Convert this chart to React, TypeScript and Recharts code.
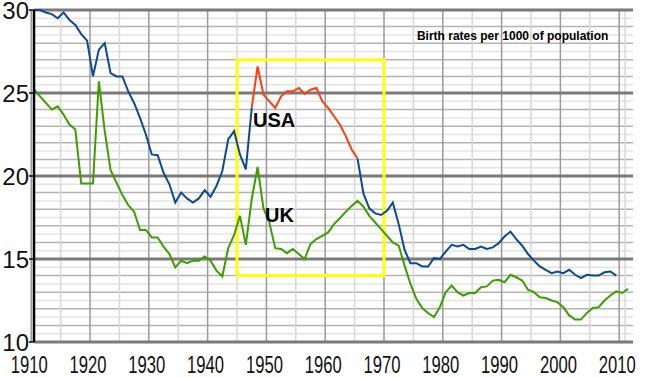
import { LineChart, Line, XAxis, YAxis, CartesianGrid, ReferenceArea, ReferenceDot } from 'recharts';

// crude birth rates per 1000 of population
const firstYear = 1910;

const usRates = [
  30.0, 30.0, 29.85, 29.75, 29.5, 29.85, 29.4, 29.1, 28.55, 28.15, // 1910s
  26.0, 27.6, 28.0, 26.2, 26.0, 26.0, 25.1, 24.4, 23.5, 22.5, // 1920s
  21.3, 21.25, 20.2, 19.5, 18.4, 19.0, 18.65, 18.4, 18.65, 19.15, // 1930s
  18.75, 19.4, 20.3, 22.2, 22.7, 21.3, 20.4, 24.1, 26.6, 24.9, // 1940s
  24.5, 24.1, 24.8, 25.1, 25.1, 25.3, 24.95, 25.2, 25.3, 24.5, // 1950s
  24.1, 23.6, 23.1, 22.4, 21.6, 21.05, 18.95, 18.05, 17.75, 17.65, // 1960s
  17.9, 18.4, 17.1, 15.55, 14.75, 14.75, 14.55, 14.55, 15.05, 15.0, // 1970s
  15.45, 15.85, 15.75, 15.85, 15.6, 15.6, 15.75, 15.6, 15.7, 15.95, // 1980s
  16.35, 16.65, 16.2, 15.8, 15.3, 14.9, 14.55, 14.35, 14.15, 14.25, // 1990s
  14.15, 14.35, 14.05, 13.85, 14.05, 14.0, 14.0, 14.2, 14.25, 14.0, // 2000s
];

const ukRates = [
  25.2, 24.8, 24.4, 24.0, 24.2, 23.7, 23.1, 22.8, 19.55, 19.55, // 1910s
  19.55, 25.7, 22.7, 20.35, 19.6, 18.85, 18.25, 17.85, 16.75, 16.75, // 1920s
  16.3, 16.3, 15.75, 15.3, 14.5, 14.9, 14.75, 14.9, 14.9, 15.15, // 1930s
  14.9, 14.3, 13.95, 15.65, 16.45, 17.6, 15.85, 18.6, 20.55, 18.05, // 1940s
  17.2, 15.65, 15.6, 15.35, 15.6, 15.3, 15.0, 15.9, 16.2, 16.4, // 1950s
  16.6, 17.1, 17.45, 17.85, 18.2, 18.5, 18.15, 17.6, 17.2, 16.8, // 1960s
  16.4, 16.0, 15.8, 14.6, 13.5, 12.6, 12.05, 11.75, 11.5, 12.1, // 1970s
  13.0, 13.4, 13.0, 12.8, 12.95, 12.95, 13.3, 13.35, 13.7, 13.75, // 1980s
  13.6, 14.05, 13.9, 13.7, 13.15, 13.0, 12.7, 12.65, 12.5, 12.4, // 1990s
  12.1, 11.6, 11.35, 11.35, 11.75, 12.05, 12.1, 12.5, 12.8, 13.05, // 2000s
  12.95, 13.2, // 2010-2011
];

// baby boom stretch of the US series, drawn in red
const boomStart = 1947;
const boomEnd = 1965;

const xTicks = [1910, 1920, 1930, 1940, 1950, 1960, 1970, 1980, 1990, 2000, 2010];
const yTicks = [10, 15, 20, 25, 30];

const rows = ukRates.map((uk, i) => {
  const year = firstYear + i;
  const us = i < usRates.length ? usRates[i] : null;
  const inBoom = year >= boomStart && year <= boomEnd;
  const boomInner = year > boomStart && year < boomEnd;
  return {
    year,
    mid: year + 0.5, // yearly rates sit in the middle of the year
    us: boomInner ? null : us,
    usBoom: inBoom ? us : null,
    uk,
  };
});

// grid: every half unit, every unit, every 5 units
const halfLines: number[] = [];
const unitLines: number[] = [];
for (let v = 10; v <= 30; v += 0.5) {
  if (v % 5 === 0) continue;
  if (v % 1 === 0) unitLines.push(v);
  else halfLines.push(v);
}
const fiveYearLines = [1915, 1925, 1935, 1945, 1955, 1965, 1975, 1985, 1995, 2005, 2011];

const FONT = '"Liberation Sans", Arial, sans-serif';

const XTick = ({ x, y, payload }: any) => (
  <text
    x={x - 2}
    y={y + 23}
    textAnchor="middle"
    fontFamily={FONT}
    fontSize={24}
    textLength={37}
    lengthAdjust="spacingAndGlyphs"
    fill="#111"
  >
    {payload.value}
  </text>
);

const YTick = ({ x, y, payload }: any) => (
  <text x={x + 2} y={y + 9} textAnchor="end" fontFamily={FONT} fontSize={24} fill="#111">
    {payload.value}
  </text>
);

const textAt = (text: string, size: number) => (props: any) => {
  const { x, y } = props.viewBox;
  return (
    <text x={x} y={y} fontFamily={FONT} fontSize={size} fontWeight="bold" fill="#000">
      {text}
    </text>
  );
};

export default function App() {
  return (
    <div style={{ position: 'absolute', left: 0, top: 0, background: '#fff' }}>
      <LineChart width={650} height={377} data={rows} margin={{ top: 10, right: 17, bottom: 0, left: 0 }}>
        <CartesianGrid horizontalValues={halfLines} vertical={false} stroke="#e4e4e4" strokeWidth={1.5} />
        <CartesianGrid horizontalValues={unitLines} vertical={false} stroke="#b4b4b4" strokeWidth={1.5} />
        <CartesianGrid verticalValues={fiveYearLines} horizontal={false} stroke="#d8d8d8" strokeWidth={1.5} />
        <CartesianGrid verticalValues={xTicks} horizontal={false} stroke="#9a9a9a" strokeWidth={1.5} />
        <CartesianGrid horizontalValues={yTicks} vertical={false} stroke="#7a7a7a" strokeWidth={3} />
        <XAxis
          type="number"
          dataKey="mid"
          domain={[1910.47, 2012.35]}
          allowDataOverflow
          ticks={xTicks}
          interval={0}
          axisLine={false}
          tickLine={false}
          height={35}
          tick={<XTick />}
        />
        <YAxis
          type="number"
          domain={[10, 30]}
          ticks={yTicks}
          interval={0}
          width={34}
          axisLine={{ stroke: '#000', strokeWidth: 2.5 }}
          tickLine={{ stroke: '#000', strokeWidth: 1.5 }}
          tickSize={5}
          tick={<YTick />}
        />
        <ReferenceArea x1={1945} x2={1970} y1={14} y2={27} fill="none" stroke="#ffff00" strokeWidth={3} />
        <Line dataKey="uk" stroke="#3d9e00" strokeWidth={2} dot={false} isAnimationActive={false} />
        <Line dataKey="us" stroke="#0b4a90" strokeWidth={2} dot={false} isAnimationActive={false} />
        <Line dataKey="usBoom" stroke="#ff3d0d" strokeWidth={2} dot={false} isAnimationActive={false} />
        <ReferenceDot x={1947.73} y={22.95} r={0} fill="none" stroke="none" label={textAt('USA', 20)} />
        <ReferenceDot x={1949.78} y={17.23} r={0} fill="none" stroke="none" label={textAt('UK', 20)} />
        <ReferenceDot
          x={1975.6}
          y={28.2}
          r={0}
          fill="none"
          stroke="none"
          label={textAt('Birth rates per 1000 of population', 12)}
        />
      </LineChart>
    </div>
  );
}
